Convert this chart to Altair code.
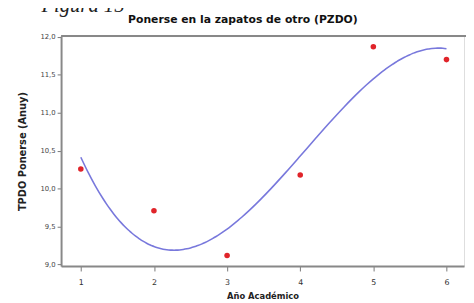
import altair as alt
import pandas as pd

anio = [1, 2, 3, 4, 5, 6]
pzdo = [10.26, 9.71, 9.12, 10.18, 11.87, 11.70]
y_ticks = [9.0, 9.5, 10.0, 10.5, 11.0, 11.5, 12.0]

df = pd.DataFrame({"anio": anio, "pzdo": pzdo})

xs = alt.Scale(domain=[0.73, 6.24], nice=False, zero=False)
ys = alt.Scale(domain=[8.98, 12.01], nice=False, zero=False)

x_axis = alt.Axis(values=anio, title="Año Académico", format="d",
                  labelFontSize=8, labelColor="#333", labelFont="DejaVu Sans",
                  titleFontSize=8.5, titleFont="DejaVu Sans", titleFontWeight="bold",
                  titleColor="#222", titlePadding=5, labelPadding=8,
                  tickSize=5, tickColor="#777", domainColor="#888",
                  domainWidth=2, grid=False)
y_axis = alt.Axis(values=y_ticks, title="TPDO   Ponerse   (Anuy)",
                  labelExpr="replace(format(datum.value, '.1f'), '.', ',')",
                  labelOverlap=False,
                  labelFontSize=7, labelColor="#444", labelFont="DejaVu Sans",
                  titleFontSize=10, titleFont="DejaVu Sans", titleFontWeight="bold",
                  titleColor="#222", titlePadding=13, labelPadding=2,
                  tickSize=4, tickColor="#777", domainColor="#888",
                  domainWidth=2, grid=False)

base = alt.Chart(df)

curve = base.transform_regression(
    "anio", "pzdo", method="poly", order=3, extent=[1, 6]
).mark_line(color="#7878dc", strokeWidth=1.6, interpolate="monotone").encode(
    x=alt.X("anio:Q", scale=xs, axis=x_axis),
    y=alt.Y("pzdo:Q", scale=ys, axis=y_axis),
)

points = base.mark_circle(size=32, color="#e0242a", opacity=1).encode(
    x=alt.X("anio:Q", scale=xs, axis=x_axis),
    y=alt.Y("pzdo:Q", scale=ys, axis=y_axis),
)

top_line = alt.Chart(pd.DataFrame({"a": [0]})).mark_rule(color="#888", strokeWidth=2).encode(
    x=alt.value(0), x2=alt.value(412), y=alt.value(0)
)

fig_label = alt.Chart(pd.DataFrame({"t": ["Figura 15"]})).mark_text(
    font="Liberation Serif", fontStyle="italic", fontSize=21, align="left",
    baseline="alphabetic", color="#222"
).encode(text="t:N", x=alt.value(-20), y=alt.value(-24))

title_label = alt.Chart(pd.DataFrame({"t": ["Ponerse en la zapatos de otro (PZDO)"]})).mark_text(
    font="DejaVu Sans", fontSize=11, fontWeight="bold", align="center",
    baseline="alphabetic", color="#111"
).encode(text="t:N", x=alt.value(185), y=alt.value(-13))

chart = alt.layer(curve, points, top_line, fig_label, title_label).properties(
    width=410,
    height=234,
    padding={"left": 54, "top": 26, "right": 2, "bottom": 35},
    autosize=alt.AutoSizeParams(type="none"),
).configure_view(stroke=None).configure(background="white")

chart.save("out.html", embed_options={"renderer": "svg", "actions": False})
